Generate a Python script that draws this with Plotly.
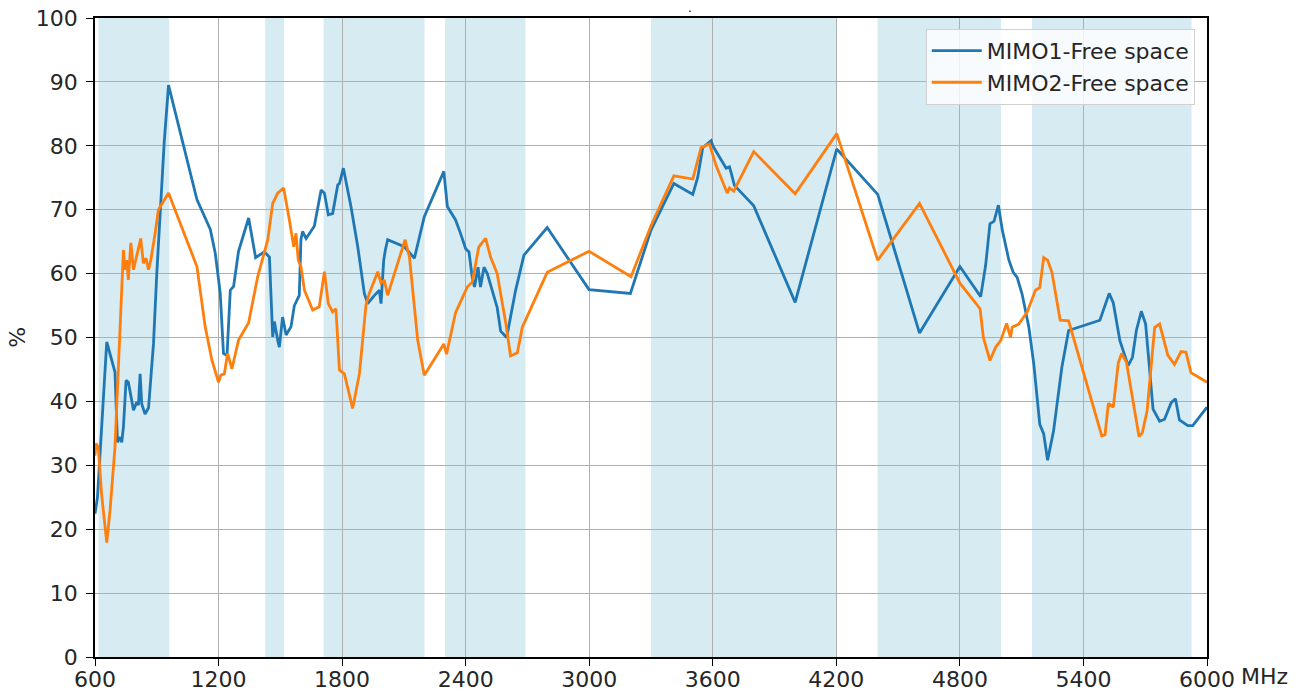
import plotly.graph_objects as go

# frequency (MHz) and efficiency (%)
mimo1_freq = [600, 612, 657, 673, 697, 709, 722, 730, 738, 751, 762, 787, 803, 811, 819, 827, 843, 860,
              876, 884, 900, 916, 936, 957, 1030, 1095, 1160, 1184, 1208, 1224, 1241, 1257, 1273, 1297,
              1346, 1380, 1422, 1447, 1463, 1471, 1487, 1495, 1511, 1528, 1552, 1568, 1592, 1600, 1608,
              1625, 1665, 1698, 1714, 1733, 1754, 1779, 1787, 1806, 1843, 1876, 1908, 1924, 1957, 1981,
              1989, 2002, 2010, 2021, 2102, 2151, 2199, 2294, 2311, 2351, 2375, 2400, 2416, 2432, 2443,
              2460, 2472, 2489, 2505, 2553, 2570, 2599, 2642, 2683, 2796, 2999, 3200, 3300, 3411, 3503,
              3527, 3551, 3592, 3600, 3665, 3681, 3689, 3705, 3799, 4000, 4202, 4401, 4604, 4800, 4901,
              4925, 4946, 4966, 4987, 5006, 5038, 5059, 5078, 5102, 5135, 5159, 5188, 5207, 5226, 5255,
              5295, 5328, 5480, 5525, 5545, 5577, 5617, 5638, 5657, 5681, 5702, 5718, 5738, 5770, 5794,
              5826, 5847, 5866, 5907, 5931, 6000]
mimo1_eff = [22.4, 25, 49.3, 47.5, 44.6, 33.6, 34.4, 33.6, 36, 43.3, 43, 38.6, 39.9, 39.4, 44.3, 39.6, 38, 39,
             45, 49, 60, 70, 80.5, 89.5, 80, 71.6, 66.9, 63.2, 57, 47.5, 47.2, 57.4, 58, 63.5,
             68.7, 62.5, 63.4, 62.6, 50.1, 52.5, 49.6, 48.5, 53.2, 50.4, 51.7, 55, 56.6, 65.3, 66.6,
             65.5, 67.4, 73.1, 72.6, 69.2, 69.4, 73.9, 74.1, 76.5, 70.5, 64.2, 56.9, 55.3, 56.6, 57.4,
             55.3, 62.1, 63.7, 65.3, 64.2, 62.4, 68.9, 76, 70.5, 68.4, 66.3, 63.9, 63.4, 59.4, 57.9,
             61, 57.9, 61, 60, 54.7, 51, 50, 57.3, 62.9, 67.2, 57.5, 56.9, 66.8, 74.1, 72.4,
             75.1, 79.7, 80.8, 80, 76.5, 76.7, 75.8, 73.8, 70.6, 55.5, 79.5, 72.4, 50.7, 61.1, 56.4,
             61.3, 67.8, 68.2, 70.7, 66.8, 62.1, 60.2, 59.4, 56.8, 51.6, 45.8, 36.4, 34.9, 30.8, 35.4,
             45.3, 51.1, 52.7, 56.9, 55.4, 49.5, 45.6, 46.9, 51.1, 54.1, 52.1, 46.4, 38.8, 36.9, 37.2,
             39.8, 40.4, 37.1, 36.2, 36.2, 39.1]

mimo2_freq = [600, 605, 616, 632, 657, 673, 697, 718, 730, 738, 746, 754, 762, 774, 787, 803, 822, 835,
              848, 860, 871, 892, 908, 957, 1095, 1135, 1168, 1200, 1211, 1228, 1244, 1265, 1297, 1346,
              1390, 1439, 1463, 1487, 1516, 1544, 1565, 1576, 1587, 1600, 1617, 1657, 1689, 1714, 1733,
              1754, 1770, 1787, 1811, 1851, 1884, 1916, 1932, 1973, 1989, 2005, 2021, 2054, 2106, 2127,
              2167, 2199, 2294, 2307, 2351, 2408, 2432, 2464, 2497, 2521, 2553, 2594, 2618, 2651, 2675,
              2796, 2999, 3203, 3300, 3411, 3503, 3543, 3584, 3616, 3670, 3681, 3702, 3799, 4000, 4202,
              4401, 4604, 4800, 4898, 4914, 4946, 4974, 4998, 5027, 5046, 5054, 5086, 5127, 5167, 5188,
              5207, 5226, 5247, 5287, 5328, 5489, 5505, 5521, 5545, 5569, 5585, 5609, 5670, 5686, 5709,
              5746, 5770, 5810, 5842, 5874, 5898, 5922, 6000]
mimo2_eff = [31.5, 33.4, 32.8, 25.5, 17.9, 22.9, 32.8, 48.5, 55.9, 63.7, 60.6, 62.1, 59, 64.8, 60.6, 62.7, 65.5, 61.6,
             62.4, 60.6, 62.1, 66.3, 70, 72.6, 61.1, 51.7, 46.4, 43, 44.1, 44.3, 47.5, 45.1, 49.6, 52.3,
             59.5, 65.3, 71, 72.6, 73.4, 68.4, 64.2, 66.3, 62.1, 61.1, 57.4, 54.3, 54.8, 60.3, 55.3,
             54, 54.5, 44.9, 44.3, 38.9, 44.3, 55.1, 56.9, 60.3, 58.5, 59, 56.6, 60, 65.3, 62.6,
             49.6, 44.1, 49, 47.4, 53.9, 57.9, 58.7, 64.2, 65.5, 62.6, 60, 52.4, 47.1, 47.6, 51.6,
             60.2, 63.5, 59.5, 67.5, 75.3, 74.8, 79.7, 80.3, 76.9, 72.6, 73.4, 72.9, 79.1, 72.5, 81.9,
             62.1, 71, 58.5, 54.5, 50, 46.4, 48.5, 49.5, 52.2, 50, 51.6, 52.1, 54, 57.4, 57.8,
             62.5, 62.1, 60.2, 52.7, 52.6, 34.6, 34.8, 39.7, 39.1, 46, 47.5, 46.1, 34.5, 35.1, 38.5,
             51.6, 52.1, 47.2, 45.8, 47.8, 47.7, 44.5, 43]

# shaded LTE/NR bands (MHz)
band_start = [617, 1427, 1710, 2300, 3300, 4400, 5150]
band_end = [960, 1518, 2200, 2690, 4200, 5000, 5925]

x_ticks = [600, 1200, 1800, 2400, 3000, 3600, 4200, 4800, 5400, 6000]
y_ticks = [0, 10, 20, 30, 40, 50, 60, 70, 80, 90, 100]

fig = go.Figure()
fig.add_trace(go.Scatter(x=mimo1_freq, y=mimo1_eff, mode="lines", name="MIMO1-Free space",
                         line=dict(color="#1f77b4", width=2.8)))
fig.add_trace(go.Scatter(x=mimo2_freq, y=mimo2_eff, mode="lines", name="MIMO2-Free space",
                         line=dict(color="#ff7f0e", width=2.8)))

for b0, b1 in zip(band_start, band_end):
    fig.add_shape(type="rect", xref="x", yref="paper", x0=b0, x1=b1, y0=0, y1=1,
                  fillcolor="rgba(173,216,230,0.5)", line=dict(width=0), layer="below")

font = dict(family="DejaVu Sans", size=22, color="#262626")

fig.update_layout(
    width=1303, height=693,
    margin=dict(l=95, r=96, t=18, b=36, autoexpand=False),
    plot_bgcolor="white", paper_bgcolor="white",
    font=font,
    showlegend=True,
    legend=dict(x=0.989, y=0.983, xanchor="right", yanchor="top", itemwidth=50,
                bgcolor="rgba(255,255,255,0.8)", bordercolor="#d0d0d0", borderwidth=1,
                font=dict(family="DejaVu Sans", size=22, color="#262626")),
)
fig.update_xaxes(range=[600, 6000], tickvals=x_ticks, showgrid=True, gridcolor="#b0b0b0", gridwidth=1,
                 showline=True, linecolor="black", linewidth=1.5, mirror=True, automargin=False,
                 ticks="outside", ticklen=7, tickcolor="black", zeroline=False, ticklabelstandoff=-5)
fig.update_yaxes(range=[0, 100], tickvals=y_ticks, showgrid=True, gridcolor="#b0b0b0", gridwidth=1,
                 showline=True, linecolor="black", linewidth=1.5, mirror=True, automargin=False,
                 ticks="outside", ticklen=7, tickcolor="black", zeroline=False, ticklabelstandoff=4)

fig.add_annotation(text="%", xref="paper", yref="paper", x=-0.07, y=0.5, xanchor="center", textangle=-90,
                   showarrow=False, font=font)
fig.add_annotation(text="MHz", xref="paper", yref="paper", x=1, y=0, xanchor="left", yanchor="middle",
                   xshift=32, yshift=-19, showarrow=False, font=font)
fig.add_annotation(text=".", xref="paper", yref="paper", x=(690 - 95) / 1112, y=1, yanchor="bottom",
                   yshift=1, showarrow=False, font=dict(family="DejaVu Sans", size=12, color="black"))

# drop the default body margin so the figure sits at the page corner
fig.write_html("out.html", config={"displayModeBar": False},
               post_script="document.body.style.margin='0';")
